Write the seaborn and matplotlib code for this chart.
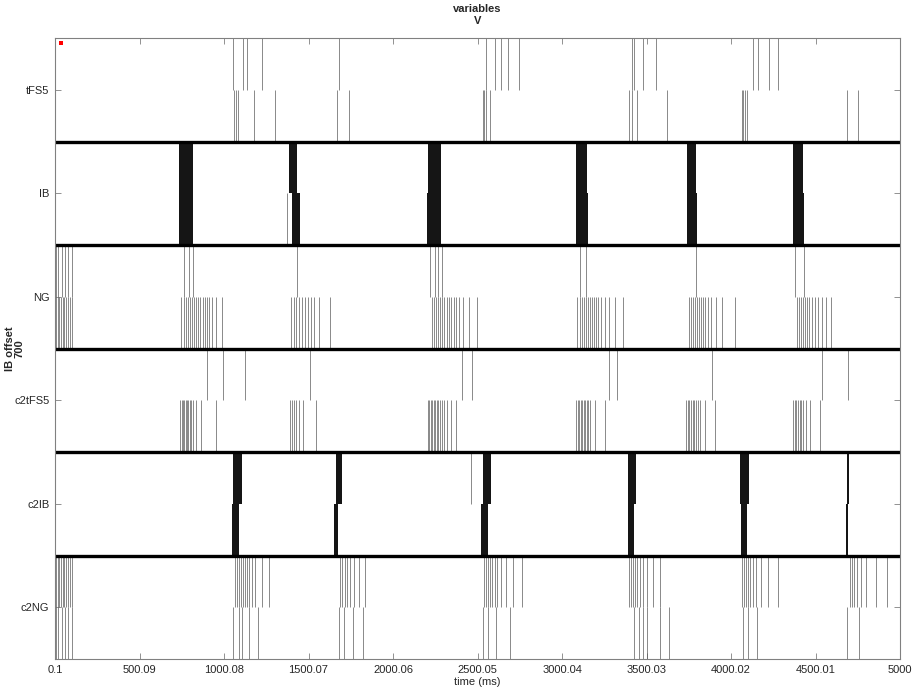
import numpy as np
import matplotlib.pyplot as plt
import seaborn as sns

# populations, top to bottom
populations = ["tFS5", "IB", "NG", "c2tFS5", "c2IB", "c2NG"]

# spike times (ms), two cells per population (upper, lower)
tFS5_upper = [1055, 1110, 1138, 1223, 1682, 2552, 2606, 2641, 2683, 2748,
              3412, 3428, 3481, 3554, 4128, 4158, 4223, 4276]
tFS5_lower = [1059, 1073, 1085, 1176, 1302, 1667, 1742, 2531, 2539, 2552, 2576,
              3397, 3412, 3446, 3624, 4063, 4073, 4085, 4097, 4685, 4750]

NG_upper = [5, 20, 43, 59, 79, 103, 761, 793, 817, 1430, 2217, 2249, 2268, 2288,
            3105, 3140, 3793, 4381, 4432]
NG_lower = [2, 8, 16, 25, 35, 45, 55, 66, 78, 90, 103,
            746, 761, 773, 785, 797, 809, 820, 836, 848, 860, 874, 888, 899, 913, 931, 953, 990,
            1398, 1412, 1428, 1446, 1462, 1479, 1497, 1515, 1535, 1564, 1625,
            2233, 2245, 2256, 2268, 2280, 2292, 2304, 2318, 2331, 2345, 2359, 2375, 2391, 2412, 2448, 2495,
            3091, 3107, 3119, 3130, 3142, 3154, 3166, 3178, 3190, 3201, 3215, 3231, 3253, 3280, 3316, 3359,
            3750, 3762, 3773, 3785, 3797, 3809, 3821, 3833, 3848, 3864, 3884, 3911, 3945, 4022,
            4393, 4405, 4416, 4428, 4440, 4452, 4464, 4479, 4495, 4515, 4539, 4562, 4594]

c2tFS5_upper = [899, 996, 1122, 1511, 2410, 2466, 3278, 3326, 3887, 4538, 4692]
c2tFS5_lower = [742, 750, 758, 766, 774, 782, 790, 798, 806, 817, 836, 864, 951,
                1393, 1404, 1416, 1428, 1442, 1469, 1546,
                2205, 2214, 2223, 2232, 2241, 2250, 2259, 2268, 2277, 2288,
                2300, 2320, 2343, 2375,
                3083, 3092, 3101, 3110, 3119, 3128, 3137, 3146, 3155, 3166, 3195, 3255,
                3734, 3744, 3754, 3764, 3774, 3784, 3794, 3806, 3817, 3846, 3905,
                4367, 4377, 4387, 4397, 4407, 4417, 4427, 4444, 4467, 4526]

c2IB_upper = [2462]
c2IB_lower = []

c2NG_upper = [2, 8, 16, 25, 35, 45, 55, 66, 78, 90, 103,
              1067, 1079, 1091, 1103, 1114, 1126, 1138, 1150, 1166, 1185, 1225, 1268,
              1686, 1700, 1715, 1730, 1748, 1770, 1800, 1834,
              2539, 2551, 2563, 2575, 2588, 2602, 2618, 2640, 2670, 2710, 2763,
              3396, 3408, 3420, 3432, 3446, 3462, 3480, 3505, 3540, 3580,
              4065, 4077, 4089, 4101, 4115, 4130, 4150, 4180, 4220, 4278,
              4704, 4716, 4730, 4746, 4770, 4800, 4860, 4923]
c2NG_lower = [5, 20, 43, 59, 79, 103, 1055, 1091, 1108, 1150, 1199,
              1680, 1710, 1765, 1825, 2533, 2560, 2610, 2690,
              3426, 3458, 3481, 3503, 3582, 3635, 4071, 4103, 4152, 4688, 4757]

# bursts (start, end in ms) - dense spike trains that merge into solid blocks
IB_upper_bursts = [(735, 815), (1385, 1434), (2205, 2284), (3083, 3148), (3740, 3793), (4367, 4426)]
IB_lower_bursts = [(735, 818), (1404, 1450), (2201, 2284), (3083, 3154), (3740, 3799), (4367, 4432)]
IB_lower_single = [1375]
c2IB_upper_bursts = [(1051, 1108), (1663, 1696), (2533, 2580), (3391, 3438), (4053, 4107), (4687, 4698)]
c2IB_lower_bursts = [(1049, 1089), (1653, 1676), (2521, 2562), (3391, 3426), (4059, 4095), (4681, 4692)]

marker_t = [35]
marker_y = [11.9]

t_min, t_max = 0.1, 5000

spikes = {
    "tFS5": (tFS5_upper, tFS5_lower),
    "IB": ([], IB_lower_single),
    "NG": (NG_upper, NG_lower),
    "c2tFS5": (c2tFS5_upper, c2tFS5_lower),
    "c2IB": (c2IB_upper, c2IB_lower),
    "c2NG": (c2NG_upper, c2NG_lower),
}
bursts = {
    "IB": (IB_upper_bursts, IB_lower_bursts),
    "c2IB": (c2IB_upper_bursts, c2IB_lower_bursts),
}

sns.set_style("white")
plt.rcParams['font.family'] = ['Liberation Sans', 'DejaVu Sans']

fig = plt.figure(figsize=(9.22, 6.91), dpi=100)
ax = fig.add_axes([55 / 922, 1 - 659 / 691, 845 / 922, 621 / 691])

n = len(populations)
for i, pop in enumerate(populations):
    base = 2 * (n - 1 - i)  # bottom of this band
    up, lo = spikes[pop]
    ax.vlines(up, base + 1, base + 2, color="#5a5a5a", lw=0.5)
    ax.vlines(lo, base, base + 1, color="#5a5a5a", lw=0.5)
    if pop in bursts:
        ub, lb = bursts[pop]
        for s, e in ub:
            ax.fill_between([s, e], base + 1, base + 2, color="#151515", lw=0)
        for s, e in lb:
            ax.fill_between([s, e], base, base + 1, color="#151515", lw=0)

# band separators
for k in range(1, n):
    ax.axhline(2 * k, color="black", lw=2.4)

sns.scatterplot(x=marker_t, y=marker_y, color="red", marker="s", s=5, linewidth=0, ax=ax)

ax.set_xlim(t_min, t_max)
ax.set_ylim(0, 2 * n)
xt = np.linspace(t_min, t_max, 11)
ax.set_xticks(xt)
ax.set_xticklabels([f"{v:.2f}".rstrip("0").rstrip(".") for v in xt], fontsize=8)
ax.set_yticks([2 * (n - 1 - i) + 1 for i in range(n)])
ax.set_yticklabels(populations, fontsize=8)
ax.tick_params(direction="in", length=4, width=0.6, color="#808080",
               top=True, right=True, bottom=True, left=True, labelcolor="#262626", pad=4)
for sp in ax.spines.values():
    sp.set_color("#808080")
    sp.set_linewidth(0.8)

ax.set_xlabel("time (ms)", fontsize=8, color="#262626", labelpad=2)
ax.set_ylabel("IB offset\n700", fontsize=8, fontweight="bold", linespacing=1.0)
ax.yaxis.set_label_coords(-0.036, 0.5)
ax.set_title("variables\nV", fontsize=8, fontweight="bold", pad=10, linespacing=1.3)

fig.savefig("out.png", dpi=100)
